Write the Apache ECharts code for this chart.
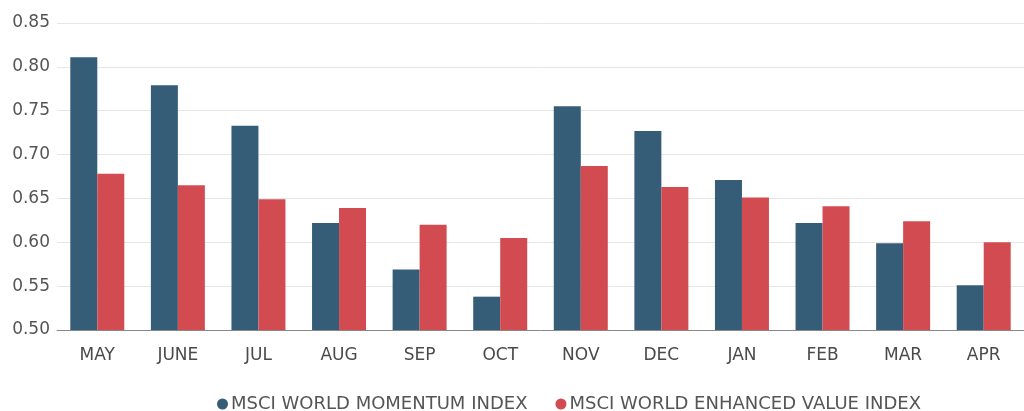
<!DOCTYPE html>
<html><head><meta charset="utf-8">
<script src="https://cdn.jsdelivr.net/npm/echarts@6/dist/echarts.min.js"></script>
<style>html,body{margin:0;padding:0;background:#fff}#c{width:1024px;height:411px}</style>
</head><body><div id="c"></div>
<script>
const categories = ['MAY','JUNE','JUL','AUG','SEP','OCT','NOV','DEC','JAN','FEB','MAR','APR'];
const momentum = [0.811,0.779,0.733,0.622,0.569,0.538,0.755,0.727,0.671,0.622,0.599,0.551];
const enhancedValue = [0.678,0.665,0.649,0.639,0.620,0.605,0.687,0.663,0.651,0.641,0.624,0.600];
const seriesNames = ['MSCI WORLD MOMENTUM INDEX','MSCI WORLD ENHANCED VALUE INDEX'];
const chart = echarts.init(document.getElementById('c'));
const font = '"DejaVu Sans", Roboto, sans-serif';
chart.setOption({
  animation:false,
  textStyle:{fontFamily:font},
  grid:{left:57,right:0,top:23,bottom:81,containLabel:false},
  legend:{
    top:390,left:212,itemGap:28,icon:'circle',itemWidth:11,itemHeight:11,
    textStyle:{fontSize:18,color:'#555',fontFamily:font,padding:[0,0,0,-2]},
    data:seriesNames
  },
  xAxis:{
    type:'category',data:categories,
    axisLine:{lineStyle:{color:'#888',width:1}},
    axisTick:{show:false},
    axisLabel:{fontSize:17,color:'#4a4a4a',margin:17,fontFamily:font}
  },
  yAxis:{
    type:'value',min:0.5,max:0.85,interval:0.05,
    axisLabel:{fontSize:17,color:'#555',margin:7,formatter:v=>v.toFixed(2),fontFamily:font},
    splitLine:{lineStyle:{color:'#e6e6e6'}},
    axisLine:{show:false},axisTick:{show:false}
  },
  series:[
    {name:seriesNames[0],type:'bar',data:momentum,itemStyle:{color:'#365d78'},barGap:'0%',barCategoryGap:'33%'},
    {name:seriesNames[1],type:'bar',data:enhancedValue,itemStyle:{color:'#d24b51'}}
  ]
});
</script></body></html>
